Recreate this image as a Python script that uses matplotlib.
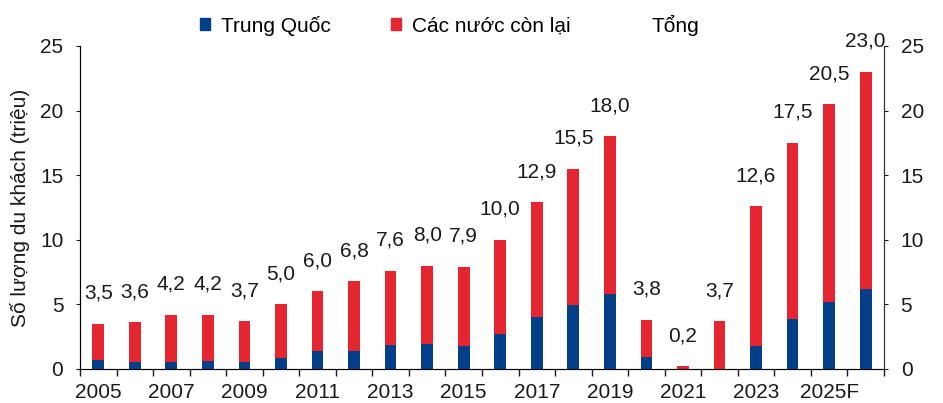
import numpy as np
import matplotlib
matplotlib.use('Agg')
import matplotlib.pyplot as plt
from matplotlib.lines import Line2D
from matplotlib.patches import Patch

plt.rcParams['font.family'] = ['Liberation Sans', 'DejaVu Sans']

# Khách quốc tế đến Việt Nam (triệu lượt)
years = ['2005', '2006', '2007', '2008', '2009', '2010', '2011', '2012', '2013',
         '2014', '2015', '2016', '2017', '2018', '2019', '2020', '2021', '2022',
         '2023', '2024', '2025F', '2026F']
total = [3.5, 3.6, 4.2, 4.2, 3.7, 5.0, 6.0, 6.8, 7.6, 8.0, 7.9, 10.0, 12.9,
         15.5, 18.0, 3.8, 0.2, 3.7, 12.6, 17.5, 20.5, 23.0]
china = [0.70, 0.52, 0.52, 0.60, 0.52, 0.85, 1.40, 1.40, 1.87, 1.94, 1.76,
         2.67, 4.00, 4.92, 5.83, 0.96, 0.03, 0.0, 1.76, 3.83, 5.18, 6.17]
shown_years = ['2005', '2007', '2009', '2011', '2013', '2015', '2017', '2019',
               '2021', '2023', '2025F']

BLUE = '#023F88'
RED = '#E52630'
TXT = '#1a1a1a'
FS = 15

china = np.array(china)
total = np.array(total)
rest = total - china
x = np.arange(len(years))

fig = plt.figure(figsize=(9.43, 4.03), dpi=100)
ax = fig.add_axes([0.0848, 0.0844, 0.8526, 0.8016])

ax.bar(x, china, width=0.32, color=BLUE, linewidth=0)
ax.bar(x, rest, bottom=china, width=0.32, color=RED, linewidth=0)

for xi, t in zip(x, total):
    ax.annotate(f'{t:.1f}'.replace('.', ','), xy=(xi, t), xytext=(0, 22),
                textcoords='offset points', ha='center', va='center',
                fontsize=FS, color=TXT)

ax.set_xlim(-0.5, len(years) - 0.5)
ax.set_ylim(0, 25)
ax.set_yticks(np.arange(0, 26, 5))
ax.tick_params(axis='y', direction='out', length=3, pad=9, labelsize=FS,
               colors=TXT)
ax.set_ylabel('Số lượng du khách (triệu)', fontsize=15, color=TXT, labelpad=7)

# year labels every other category; tick marks on category boundaries
ax.set_xticks([years.index(y) for y in shown_years])
ax.set_xticklabels(shown_years)
ax.tick_params(axis='x', length=0, labelsize=FS, pad=10, colors=TXT)
ax.set_xticks(np.arange(-0.5, len(years), 1.0), minor=True)
ax.tick_params(axis='x', which='minor', direction='out', length=5, width=1,
               color=TXT)

ax.spines['top'].set_visible(False)
for s in ('left', 'right', 'bottom'):
    ax.spines[s].set_color('#333333')

ax2 = ax.twinx()
ax2.set_ylim(0, 25)
ax2.set_yticks(np.arange(0, 26, 5))
ax2.tick_params(axis='y', direction='out', length=3, pad=9, labelsize=FS,
                colors=TXT)
ax2.spines['top'].set_visible(False)
ax2.spines['right'].set_color('#333333')

handles = [Patch(color=BLUE), Patch(color=RED), Line2D([], [], linestyle='none')]
fig.legend(handles, ['Trung Quốc', 'Các nước còn lại', 'Tổng'], ncol=3,
           loc='center', bbox_to_anchor=(0.477, 0.938), frameon=False,
           fontsize=FS, handlelength=0.5, handleheight=0.5, handletextpad=0.5,
           columnspacing=2.9)

fig.savefig('out.png', dpi=100)
